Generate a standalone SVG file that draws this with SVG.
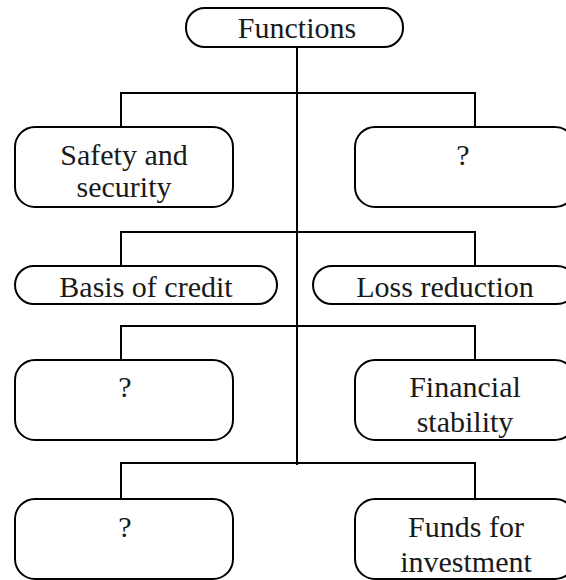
<svg xmlns="http://www.w3.org/2000/svg" width="566" height="580" viewBox="0 0 566 580">
<style>
.box{fill:#fff;stroke:#000;stroke-width:2}
.ln{fill:none;stroke:#000;stroke-width:2}
.t{font-family:'Liberation Serif','Times New Roman',Times,'DejaVu Serif',serif;font-size:30px;fill:#1a1a1a;text-anchor:middle}
</style>
<rect width="566" height="580" fill="#fff"/>
<g id="connectors">
<path class="ln" d="M297 47V465"/>
<path class="ln" d="M121 127V93H475V127"/>
<path class="ln" d="M121 266V232H475V266"/>
<path class="ln" d="M121 360V326H475V360"/>
<path class="ln" d="M121 499V463H475V499"/>
</g>
<g id="n-functions"><rect class="box" x="186" y="8" width="217" height="39" rx="19" ry="19"/><text class="t" x="297" y="38">Functions</text></g>
<g id="n-safety"><rect class="box" x="15" y="127" width="218" height="80" rx="20" ry="20"/><text class="t" x="124" y="165">Safety and</text><text class="t" x="124" y="197">security</text></g>
<g id="n-q1"><rect class="box" x="355" y="127" width="220" height="80" rx="20" ry="20"/><text class="t" x="463" y="165">?</text></g>
<g id="n-basis"><rect class="box" x="15" y="266" width="262" height="38" rx="19" ry="19"/><text class="t" x="146" y="297">Basis of credit</text></g>
<g id="n-loss"><rect class="box" x="313" y="266" width="263" height="38" rx="19" ry="19"/><text class="t" x="445" y="297">Loss reduction</text></g>
<g id="n-q2"><rect class="box" x="15" y="360" width="218" height="80" rx="20" ry="20"/><text class="t" x="125" y="397">?</text></g>
<g id="n-financial"><rect class="box" x="355" y="360" width="220" height="80" rx="20" ry="20"/><text class="t" x="465" y="397">Financial</text><text class="t" x="465" y="432">stability</text></g>
<g id="n-q3"><rect class="box" x="15" y="499" width="218" height="80" rx="20" ry="20"/><text class="t" x="125" y="537">?</text></g>
<g id="n-funds"><rect class="box" x="355" y="499" width="220" height="80" rx="20" ry="20"/><text class="t" x="466" y="537">Funds for</text><text class="t" x="466" y="572">investment</text></g>
</svg>
